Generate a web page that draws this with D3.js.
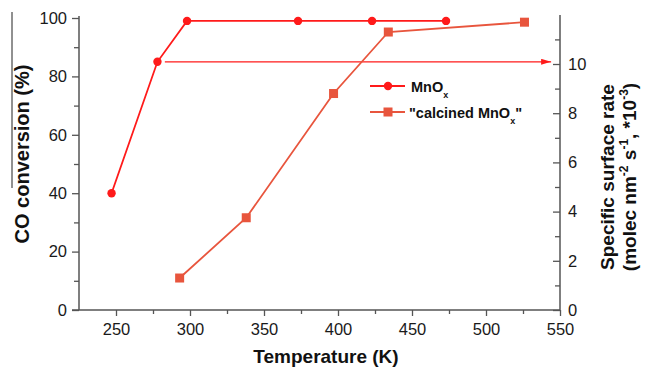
<!DOCTYPE html>
<html><head><meta charset="utf-8">
<script src="https://cdn.jsdelivr.net/npm/d3@7"></script>
<style>
html,body{margin:0;padding:0;background:#fff;}
svg{display:block;font-family:"Liberation Sans",Arial,sans-serif;}
</style></head>
<body><svg id="c" width="647" height="369"></svg>
<script>
// Data
const mnoxTemp = [247, 278, 298, 373, 423, 473];
const mnoxConv = [40, 85, 99, 99, 99, 99];
const calcTemp = [293, 338, 397, 434, 526];
const calcRate = [1.3, 3.75, 8.8, 11.3, 11.7];
const xTicks = [250, 300, 350, 400, 450, 500, 550];
const yLeftTicks = [0, 20, 40, 60, 80, 100];
const yRightTicks = [0, 2, 4, 6, 8, 10];
const arrowTemp = [283, 544];
const arrowConv = 85;

const svg = d3.select("#c");
const L = 79, R = 560, T = 18, B = 310;
const x = d3.scaleLinear().domain([225, 550]).range([L, R]);
const yL = d3.scaleLinear().domain([0, 100]).range([B, T]);
const yR = d3.scaleLinear().domain([0, 11.87]).range([B, T]);

const axisColor = "#555";
const red = "#ff1a1a";
const orange = "#e8553d";

function styleAxis(g) {
  g.select(".domain").remove();
  g.selectAll("line").attr("stroke", axisColor).attr("stroke-width", 1.3);
  g.selectAll("text").attr("fill", "#1a1a1a").style("font-size", "16.5px").style("font-family", "Liberation Sans, Arial, sans-serif");
}
const xMinor = d3.range(275, 550, 50);
svg.append("g").attr("transform", `translate(0,${B})`)
  .call(d3.axisBottom(x).tickValues(xMinor).tickSize(4).tickFormat(""))
  .call(styleAxis);
svg.append("g").attr("transform", `translate(0,${B})`)
  .call(d3.axisBottom(x).tickValues(xTicks).tickSize(6).tickPadding(7).tickFormat(d3.format("d")))
  .call(styleAxis);
svg.append("g").attr("transform", `translate(${L},0)`)
  .call(d3.axisLeft(yL).tickValues(d3.range(10, 100, 20)).tickSize(5).tickFormat(""))
  .call(styleAxis);
svg.append("g").attr("transform", `translate(${L},0)`)
  .call(d3.axisLeft(yL).tickValues(yLeftTicks).tickSize(7).tickPadding(5).tickFormat(d3.format("d")))
  .call(styleAxis);
const rMinor = svg.append("g").attr("transform", `translate(${R},0)`)
  .call(d3.axisRight(yR).tickValues([1,3,5,7,9,11]).tickSize(0).tickFormat(""))
  .call(styleAxis);
rMinor.selectAll(".tick line").attr("x2", -5);
const rMajor = svg.append("g").attr("transform", `translate(${R},0)`)
  .call(d3.axisRight(yR).tickValues(yRightTicks).tickSize(0).tickPadding(8).tickFormat(d3.format("d")))
  .call(styleAxis);
rMajor.selectAll(".tick line").attr("x2", -7);

svg.append("line").attr("x1", L).attr("x2", L).attr("y1", T - 2).attr("y2", B).attr("stroke", axisColor).attr("stroke-width", 1.5);
svg.append("line").attr("x1", R).attr("x2", R).attr("y1", T - 3).attr("y2", B).attr("stroke", axisColor).attr("stroke-width", 1.5);
svg.append("line").attr("x1", L - 7).attr("x2", R).attr("y1", B).attr("y2", B).attr("stroke", axisColor).attr("stroke-width", 1.5);

svg.append("defs").append("marker").attr("id", "ah").attr("viewBox", "0 0 10 6")
  .attr("refX", 10).attr("refY", 3).attr("markerWidth", 10).attr("markerHeight", 6)
  .attr("markerUnits", "userSpaceOnUse").attr("orient", "auto")
  .append("path").attr("d", "M0,0L10,3L0,6Z").attr("fill", red);
svg.append("line").attr("x1", x(arrowTemp[0])).attr("x2", x(arrowTemp[1]))
  .attr("y1", yL(arrowConv)).attr("y2", yL(arrowConv))
  .attr("stroke", red).attr("stroke-width", 1.2).attr("marker-end", "url(#ah)");

const mnox = mnoxTemp.map((t, i) => [t, mnoxConv[i]]);
svg.append("path").datum(mnox).attr("fill", "none").attr("stroke", red).attr("stroke-width", 1.8)
  .attr("d", d3.line().x(d => x(d[0])).y(d => yL(d[1])));
svg.selectAll(".mc").data(mnox).enter().append("circle")
  .attr("cx", d => x(d[0])).attr("cy", d => yL(d[1])).attr("r", 4.2).attr("fill", red);

const calc = calcTemp.map((t, i) => [t, calcRate[i]]);
svg.append("path").datum(calc).attr("fill", "none").attr("stroke", orange).attr("stroke-width", 1.8)
  .attr("d", d3.line().x(d => x(d[0])).y(d => yR(d[1])));
svg.selectAll(".cs").data(calc).enter().append("rect")
  .attr("x", d => x(d[0]) - 4.5).attr("y", d => yR(d[1]) - 4.5).attr("width", 9).attr("height", 9).attr("fill", orange);

const lg = svg.append("g");
lg.append("line").attr("x1", 370).attr("x2", 405).attr("y1", 86).attr("y2", 86).attr("stroke", red).attr("stroke-width", 1.8);
lg.append("circle").attr("cx", 388).attr("cy", 86).attr("r", 4.2).attr("fill", red);
const t1 = lg.append("text").attr("x", 411).attr("y", 92).style("font-size", "14.5px").style("font-weight", "bold").attr("fill", "#111");
t1.append("tspan").text("MnO");
t1.append("tspan").text("x").attr("dy", 6).style("font-size", "9px");
lg.append("line").attr("x1", 370).attr("x2", 405).attr("y1", 112).attr("y2", 112).attr("stroke", orange).attr("stroke-width", 1.8);
lg.append("rect").attr("x", 383.5).attr("y", 107.5).attr("width", 9).attr("height", 9).attr("fill", orange);
const t2 = lg.append("text").attr("x", 409).attr("y", 118).style("font-size", "14.5px").style("font-weight", "bold").attr("fill", "#111");
t2.append("tspan").text("\"calcined MnO");
t2.append("tspan").text("x").attr("dy", 6).style("font-size", "9px");
t2.append("tspan").text("\"").attr("dy", -6).style("font-size", "14.5px");

svg.append("text").attr("x", 326).attr("y", 363).attr("text-anchor", "middle")
  .style("font-size", "19px").style("font-weight", "bold").attr("fill", "#111").text("Temperature (K)");
svg.append("text").attr("transform", "translate(29,154) rotate(-90)").attr("text-anchor", "middle")
  .style("font-size", "20px").style("font-weight", "bold").attr("fill", "#111").text("CO conversion (%)");
svg.append("line").attr("x1", 12).attr("x2", 12).attr("y1", 12).attr("y2", 188).attr("stroke", "#222").attr("stroke-width", 1);
svg.append("text").attr("transform", "translate(614,177) rotate(-90)").attr("text-anchor", "middle")
  .style("font-size", "19px").style("font-weight", "bold").attr("fill", "#111").text("Specific surface rate");
const r2 = svg.append("text").attr("transform", "translate(636,177) rotate(-90)").attr("text-anchor", "middle")
  .style("font-size", "19px").style("font-weight", "bold").attr("fill", "#111");
r2.append("tspan").text("(molec nm");
r2.append("tspan").text("-2").attr("dy", -8).style("font-size", "12px");
r2.append("tspan").text(" s").attr("dy", 8);
r2.append("tspan").text("-1").attr("dy", -8).style("font-size", "12px");
r2.append("tspan").text(", *10").attr("dy", 8);
r2.append("tspan").text("-3").attr("dy", -8).style("font-size", "12px");
r2.append("tspan").text(")").attr("dy", 8);
</script></body></html>
